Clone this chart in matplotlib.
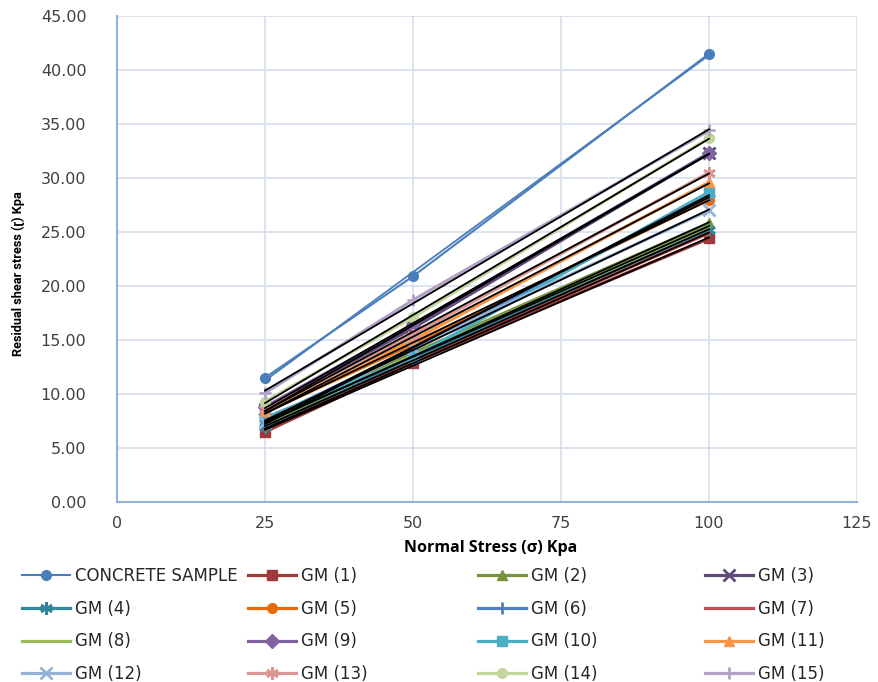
"""Residual shear stress vs normal stress, concrete sample and GM (1)-(15)."""

import matplotlib

matplotlib.use("Agg")
import matplotlib.pyplot as plt
import numpy as np

# ---- data ----------------------------------------------------------
normal_stress = [25, 50, 100]

concrete = [11.5, 20.9, 41.5]
gm1 = [6.5, 12.9, 24.4]
gm2 = [7.1, 13.8, 25.8]
gm3 = [8.6, 16.1, 32.3]
gm4 = [6.9, 13.3, 25.2]
gm5 = [8.3, 14.6, 28.0]
gm6 = [7.6, 14.1, 28.3]
gm7 = [6.7, 13.0, 24.9]
gm8 = [7.3, 13.6, 25.5]
gm9 = [8.8, 16.4, 32.3]
gm10 = [7.8, 13.4, 28.7]
gm11 = [8.4, 15.0, 29.6]
gm12 = [7.4, 14.3, 27.0]
gm13 = [8.6, 15.5, 30.5]
gm14 = [9.3, 17.1, 33.7]
gm15 = [10.1, 18.7, 34.4]

labels = ["CONCRETE SAMPLE"] + [f"GM ({i})" for i in range(1, 16)]
values = [concrete, gm1, gm2, gm3, gm4, gm5, gm6, gm7, gm8,
          gm9, gm10, gm11, gm12, gm13, gm14, gm15]

# ---- styles ---------------------------------------------------------
ASTER = (6, 2, 0)
styles = [
    ("#4A7EBB", "o"), ("#A0393A", "s"), ("#77933C", "^"), ("#604A7B", "x"),
    ("#31859C", ASTER), ("#E46C0A", "o"), ("#4F81BD", "+"), ("#C0504D", None),
    ("#9BBB59", None), ("#8064A2", "D"), ("#4BACC6", "s"), ("#F79646", "^"),
    ("#95B3D7", "x"), ("#D99694", ASTER), ("#C3D69B", "o"), ("#B3A2C7", "+"),
]
GRID = "#D5DFEE"
SPINE = "#8EB4E3"

W, H = 879, 682
fig = plt.figure(figsize=(W / 100, H / 100), dpi=100)
ax = fig.add_axes([117 / W, 1 - 502 / H, 740 / W, 486 / H])

x = np.array(normal_stress, dtype=float)
handles = []
for i, (lab, y) in enumerate(zip(labels, values)):
    c, m = styles[i]
    lw = 1.5 if i == 0 else 2.3
    thin = m in ("x", "+", ASTER)
    h, = ax.plot(x, y, color=c, lw=lw, marker=m, ms=9 if thin else 7,
                 mec=c, mfc=c, mew=2 if thin else 1, label=lab, zorder=2)
    handles.append(h)

# linear trendlines (Excel style): blue for the concrete, black for GM
for i, y in enumerate(values):
    k, b = np.polyfit(x, y, 1)
    tc = styles[0][0] if i == 0 else "black"
    ax.plot(x, k * x + b, color=tc, lw=1.3, zorder=3)

ax.set_xlim(0, 125)
ax.set_ylim(0, 45)
ax.set_xticks(np.arange(0, 126, 25))
ax.set_yticks(np.arange(0, 46, 5))
ax.yaxis.set_major_formatter(matplotlib.ticker.FormatStrFormatter("%.2f"))
ax.tick_params(length=0, labelsize=11.5, colors="#404040")
ax.tick_params(axis="y", pad=22)
ax.tick_params(axis="x", pad=10)
ax.grid(color=GRID, lw=1.2)
ax.set_axisbelow(True)
for s in ("top", "right"):
    ax.spines[s].set_visible(False)
for s in ("left", "bottom"):
    ax.spines[s].set_color(SPINE)
    ax.spines[s].set_linewidth(1.5)

ax.set_xlabel("Normal Stress (σ) Kpa", family=["Open Sans", "DejaVu Sans"],
              weight="bold", size=11.5)
ax.set_ylabel("Residual shear stress (ɽ) Kpa", family=["Roboto", "DejaVu Sans"],
              weight="bold", size=9.2)
ax.xaxis.set_label_coords(0.505, (502 - 540) / 486)
ax.yaxis.set_label_coords((25 - 117) / 740, (502 - 274) / 486)

# legend: Excel lays it out row-wise with equal column widths,
# so one single-column legend per column
col_x = [22, 248, 478, 705]
for c in range(4):
    idx = [c + 4 * r for r in range(4)]
    fig.legend([handles[j] for j in idx], [labels[j] for j in idx],
               loc="upper left", bbox_to_anchor=(col_x[c] / W, 1 - 567 / H),
               frameon=False, fontsize=12, borderpad=0, borderaxespad=0,
               handlelength=2.9, handletextpad=0.3, labelspacing=0.88,
               labelcolor="#262626")

fig.savefig("out.png", dpi=100)
